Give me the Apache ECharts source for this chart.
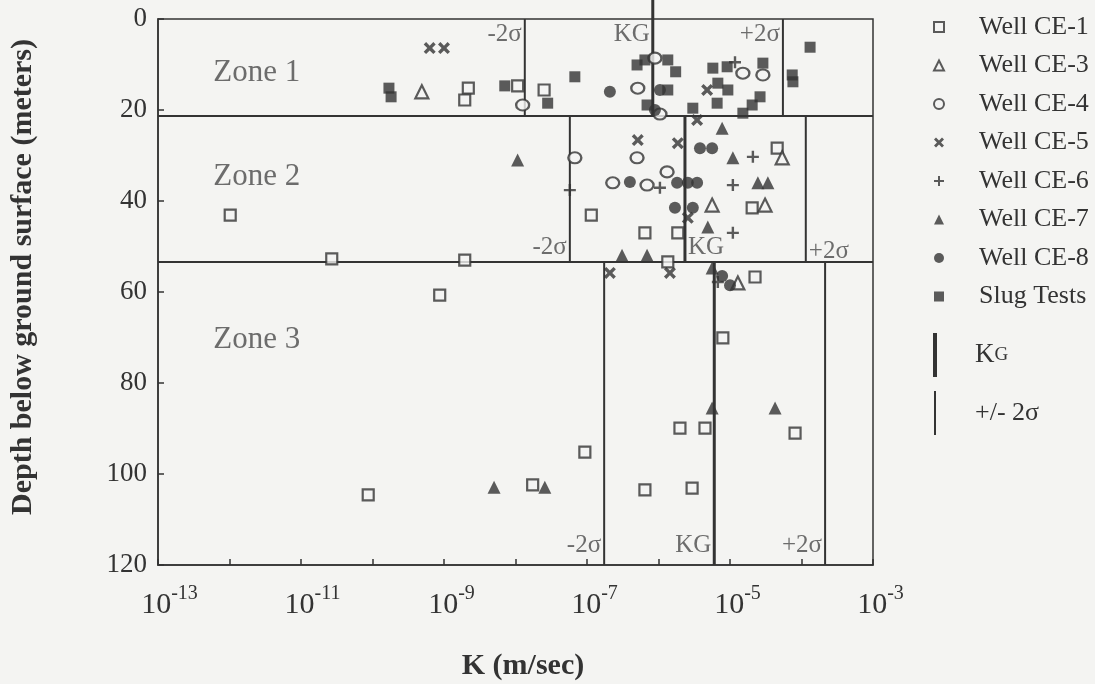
<!DOCTYPE html>
<html>
<head>
<meta charset="utf-8">
<title>K versus depth</title>
<script src="https://cdn.jsdelivr.net/npm/echarts@6/dist/echarts.min.js"></script>
<style>
  html, body { margin: 0; padding: 0; background: #f4f4f2; }
  #chart { width: 1095px; height: 684px; }
</style>
</head>
<body>
<div id="chart"></div>
<script>
// each point: [log10 K (m/sec), depth below ground surface (m)]
var wellCE1 = [
  [-8.66, 15.2], [-8.71, 17.8], [-7.97, 14.7], [-7.60, 15.6],
  [-11.99, 43.1], [-6.94, 43.1], [-4.34, 28.4], [-4.69, 41.5], [-6.19, 47.0], [-5.73, 47.0], [-5.87, 53.4],
  [-10.57, 52.7], [-8.71, 53.0], [-9.06, 60.7], [-4.65, 56.7], [-5.10, 70.1], [-5.70, 89.9], [-5.35, 89.9],
  [-4.09, 91.0], [-7.03, 95.2], [-6.19, 103.5], [-5.53, 103.1], [-10.06, 104.6], [-7.76, 102.4]
];
var wellCE3 = [[-9.31, 16.0], [-4.27, 30.5], [-5.25, 40.9], [-4.51, 40.9], [-4.89, 58.0]];
var wellCE4 = [
  [-7.90, 18.9], [-6.05, 8.6], [-6.29, 15.2], [-5.98, 20.9], [-4.82, 11.9], [-4.54, 12.3],
  [-7.17, 30.5], [-6.30, 30.5], [-6.64, 36.0], [-6.16, 36.5], [-5.88, 33.6]
];
var wellCE5 = [
  [-9.20, 6.4], [-9.00, 6.4], [-5.32, 15.6], [-6.29, 26.6], [-5.73, 27.3], [-5.59, 43.7],
  [-5.46, 22.2], [-6.68, 55.8], [-5.84, 55.8]
];
var wellCE6 = [[-4.93, 9.5], [-7.24, 37.6], [-5.98, 37.1], [-4.68, 30.3], [-4.96, 36.5], [-4.96, 47.0], [-5.17, 57.8]];
var wellCE7 = [
  [-7.97, 31.0], [-5.11, 24.0], [-4.96, 30.5], [-4.61, 36.0], [-4.47, 36.0], [-5.31, 45.7], [-6.51, 51.9],
  [-6.16, 51.9], [-5.25, 54.7], [-5.25, 85.5], [-4.37, 85.5], [-8.30, 102.9], [-7.59, 102.9]
];
var wellCE8 = [
  [-6.68, 16.0], [-5.98, 15.6], [-6.05, 20.0],
  [-6.40, 35.8], [-5.74, 36.0], [-5.59, 36.0], [-5.46, 36.0], [-5.77, 41.5], [-5.52, 41.5], [-5.42, 28.4], [-5.25, 28.4],
  [-5.11, 56.5], [-5.00, 58.5]
];
var slugTests = [
  [-9.77, 15.2], [-9.74, 17.1], [-8.15, 14.7], [-7.55, 18.5], [-7.17, 12.7], [-6.30, 10.1], [-6.19, 9.0],
  [-5.87, 9.0], [-5.76, 11.6], [-5.87, 15.6], [-6.16, 18.9], [-5.24, 10.8], [-5.04, 10.5], [-5.17, 14.1],
  [-5.03, 15.6], [-5.18, 18.5], [-5.52, 19.6], [-4.54, 9.7], [-4.58, 17.1], [-4.69, 18.9], [-4.82, 20.7],
  [-3.88, 6.2], [-4.13, 12.3], [-4.12, 13.8]
];

// zones: depth limits, geometric mean KG and +/- 2 sigma (log10 K)
var zoneNames = ['Zone 1', 'Zone 2', 'Zone 3'];
var zoneDepths = [0, 21.3, 53.4, 120];
var kgLog = [-6.08, -5.63, -5.22];
var minus2sLog = [-7.87, -7.24, -6.76];
var plus2sLog = [-4.26, -3.94, -3.67];
var kgTopZone1 = -4.2; // KG line of zone 1 runs past the top frame

var xLabelExponents = [-13, -11, -9, -7, -5, -3];
var yTicks = [0, 20, 40, 60, 80, 100, 120];

var ink = '#333';
var paper = '#f4f4f2';
var serif = "'Liberation Serif', 'DejaVu Serif', serif";

function toK(arr) {
  return arr.map(function (p) { return [Math.pow(10, p[0]), p[1]]; });
}

var xPath = 'path://M0,2 L2,0 L5,3 L8,0 L10,2 L7,5 L10,8 L8,10 L5,7 L2,10 L0,8 L3,5 Z';
var plusPath = 'path://M4,0 H6 V4 H10 V6 H6 V10 H4 V6 H0 V4 H4 Z';

function pointSeries(name, data, symbol, size, filled) {
  return {
    name: name,
    type: 'scatter',
    symbol: symbol,
    symbolSize: size,
    data: toK(data),
    itemStyle: filled
      ? { color: ink, borderWidth: 0 }
      : { color: paper, borderColor: ink, borderWidth: 2.2 },
    z: 5
  };
}

function segment(name, x, d0, d1, width) {
  return {
    name: name,
    type: 'line',
    symbol: 'none',
    silent: true,
    clip: false,
    color: ink,
    lineStyle: { color: ink, width: width },
    data: [[Math.pow(10, x), d0], [Math.pow(10, x), d1]],
    z: 3
  };
}

var series = [
  pointSeries('Well CE-1', wellCE1, 'rect', 11, false),
  pointSeries('Well CE-3', wellCE3, 'triangle', 13, false),
  pointSeries('Well CE-4', wellCE4, 'circle', [13, 11], false),
  pointSeries('Well CE-5', wellCE5, xPath, 12, true),
  pointSeries('Well CE-6', wellCE6, plusPath, 12, true),
  pointSeries('Well CE-7', wellCE7, 'triangle', 13, true),
  pointSeries('Well CE-8', wellCE8, 'circle', 12, true),
  pointSeries('Slug Tests', slugTests, 'rect', 11, true)
];

for (var i = 0; i < 3; i++) {
  var zTop = i === 0 ? kgTopZone1 : zoneDepths[i];
  series.push(segment('KG', kgLog[i], zTop, zoneDepths[i + 1], 3));
  series.push(segment('+/- 2σ', minus2sLog[i], zoneDepths[i], zoneDepths[i + 1], 2));
  series.push(segment('+/- 2σ', plus2sLog[i], zoneDepths[i], zoneDepths[i + 1], 2));
}
// horizontal zone boundaries
[zoneDepths[1], zoneDepths[2]].forEach(function (d) {
  series.push({
    type: 'line', symbol: 'none', silent: true,
    lineStyle: { color: ink, width: 2 },
    data: [[1e-13, d], [1e-3, d]],
    z: 3
  });
});

// text inside the plot
function note(x, d, text, pos, size) {
  return {
    value: [Math.pow(10, x), d],
    label: { show: true, formatter: text, position: pos, distance: 3, fontSize: size }
  };
}
var notes = [];
var zoneLabelDepth = [11.8, 34.8, 70.5];
zoneNames.forEach(function (z, i) {
  notes.push(note(-12.27, zoneLabelDepth[i], z, 'right', 31));
});
notes.push(note(minus2sLog[0], 3.3, '-2σ', 'left', 25));
notes.push(note(kgLog[0], 3.3, 'KG', 'left', 25));
notes.push(note(plus2sLog[0], 3.3, '+2σ', 'left', 25));
notes.push(note(minus2sLog[1], 50.3, '-2σ', 'left', 25));
notes.push(note(kgLog[1], 50.3, 'KG', 'right', 25));
notes.push(note(plus2sLog[1], 51.0, '+2σ', 'right', 25));
notes.push(note(minus2sLog[2], 115.6, '-2σ', 'left', 25));
notes.push(note(kgLog[2], 115.6, 'KG', 'left', 25));
notes.push(note(plus2sLog[2], 115.6, '+2σ', 'left', 25));

series.push({
  type: 'scatter',
  symbolSize: 0,
  silent: true,
  label: { color: '#4a4a4a', fontFamily: serif },
  data: notes,
  z: 6
});

var option = {
  backgroundColor: paper,
  animation: false,
  textStyle: { fontFamily: serif, color: ink },
  grid: {
    left: 158, right: 222, top: 19, bottom: 119,
    outerBoundsMode: 'none',
    show: true, borderColor: ink, borderWidth: 1.5, backgroundColor: 'transparent'
  },
  legend: [
    {
      orient: 'vertical',
      left: 928,
      top: 9,
      itemWidth: 10,
      itemHeight: 10,
      itemGap: 12.5,
      data: ['Well CE-1', 'Well CE-3', 'Well CE-4', 'Well CE-5', 'Well CE-6', 'Well CE-7', 'Well CE-8', 'Slug Tests'],
      textStyle: { fontFamily: serif, fontSize: 26, lineHeight: 26, color: ink, padding: [0, 0, 0, 30] },
      selectedMode: false
    },
    {
      orient: 'vertical',
      left: 928,
      top: 328,
      itemWidth: 10,
      itemHeight: 44,
      itemGap: 14,
      data: [
        { name: 'KG', icon: 'path://M0,0 H1 V11 H0 Z' },
        { name: '+/- 2σ', icon: 'path://M0,0 H1 V22 H0 Z' }
      ],
      formatter: function (n) { return n === 'KG' ? '{k|K}{g|G}' : n; },
      textStyle: {
        fontFamily: serif, fontSize: 26, color: ink, padding: [0, 0, 0, 30],
        rich: { k: { fontSize: 27, fontFamily: serif, color: ink }, g: { fontSize: 19, fontFamily: serif, color: ink } }
      },
      selectedMode: false
    }
  ],
  xAxis: {
    type: 'log',
    logBase: 10,
    min: 1e-13,
    max: 1e-3,
    splitNumber: 10,
    name: 'K (m/sec)',
    nameLocation: 'middle',
    nameGap: 86,
    nameTextStyle: { fontFamily: serif, fontWeight: 'bold', fontSize: 30, color: ink, padding: [0, 0, 0, 15] },
    axisLine: { show: true, onZero: false, lineStyle: { color: ink, width: 1.5 } },
    axisTick: { show: true, inside: true, length: 6, lineStyle: { color: ink, width: 1.5 } },
    splitLine: { show: false },
    axisLabel: {
      margin: 19,
      color: ink,
      formatter: function (v) {
        var e = Math.round(Math.log10(v));
        if (xLabelExponents.indexOf(e) < 0) return '';
        var s = String(e);
        return '{b' + s.length + '|10}{e|' + s + '}';
      },
      rich: {
        b3: { fontSize: 30, fontFamily: serif, color: ink, lineHeight: 42, padding: [0, 0, 0, 23] },
        b2: { fontSize: 30, fontFamily: serif, color: ink, lineHeight: 42, padding: [0, 0, 0, 15] },
        e: { fontSize: 20, fontFamily: serif, color: ink, lineHeight: 20, verticalAlign: 'top' }
      }
    }
  },
  yAxis: {
    type: 'value',
    inverse: true,
    min: yTicks[0],
    max: yTicks[yTicks.length - 1],
    interval: 20,
    name: 'Depth below ground surface (meters)',
    nameLocation: 'middle',
    nameGap: 120,
    nameTextStyle: { fontFamily: serif, fontWeight: 'bold', fontSize: 30, color: ink, padding: [0, 0, 0, 30] },
    axisLine: { show: true, onZero: false, lineStyle: { color: ink, width: 1.5 } },
    axisTick: { show: true, inside: true, length: 6, lineStyle: { color: ink, width: 1.5 } },
    splitLine: { show: false },
    axisLabel: { fontSize: 27, fontFamily: serif, color: ink, margin: 11 }
  },
  series: series
};

var chart = echarts.init(document.getElementById('chart'), null, { renderer: 'canvas' });
chart.setOption(option);
</script>
</body>
</html>
